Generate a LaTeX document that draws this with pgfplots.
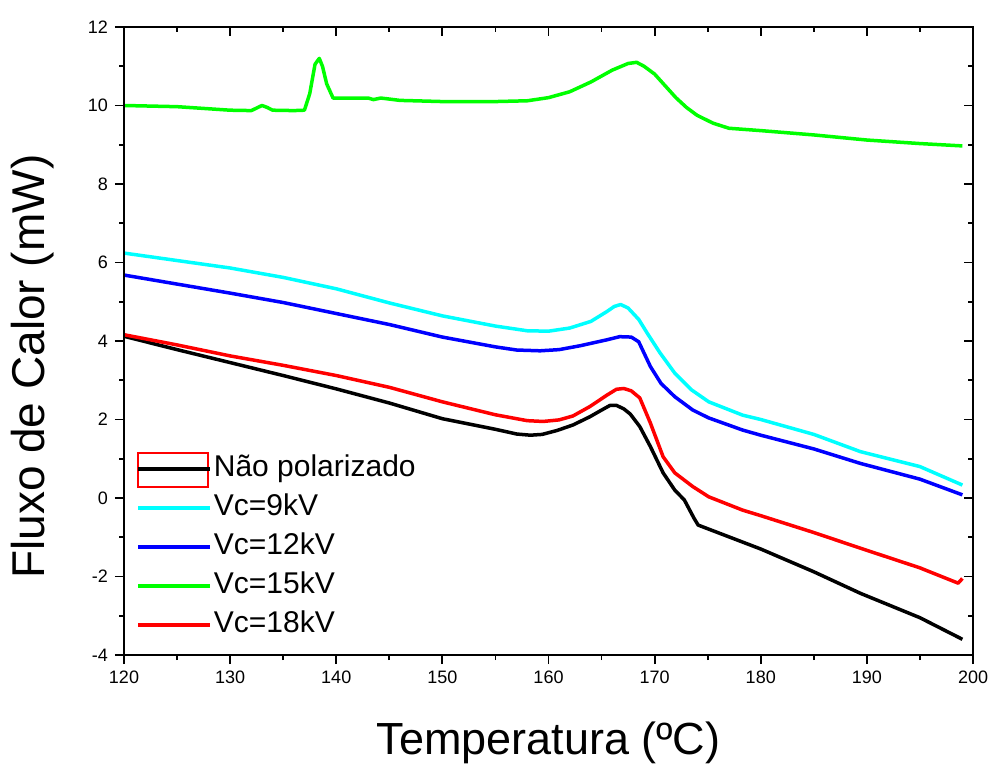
\documentclass[border=0pt]{standalone}
\usepackage{fontspec}
\setmainfont{Liberation Sans}
\usepackage{pgfplots}
\pgfplotsset{compat=1.18}

\definecolor{cy}{RGB}{0,255,255}
\definecolor{bl}{RGB}{0,0,255}
\definecolor{gr}{RGB}{0,255,0}
\definecolor{rd}{RGB}{255,0,0}

\begin{document}
\begin{tikzpicture}
\pgfplotsset{
  base/.style={
    width=424.5pt, height=314pt, scale only axis,
    xmin=120, xmax=200, ymin=-4, ymax=12,
    xtick={120,130,...,200}, ytick={-4,-2,...,12},
    minor x tick num=1, minor y tick num=1,
    axis line style={line width=0.9pt},
    every tick/.style={black, line width=0.9pt},
    major tick length=4.5pt, minor tick length=2.5pt,
    /pgf/number format/assume math mode=true,
    tick label style={font=\fontsize{9}{11}\selectfont},
  }
}
\begin{axis}[base, name=ax,
  tick align=outside, xtick pos=left, ytick pos=left,
  xlabel={Temperatura (ºC)},
  ylabel={Fluxo de Calor (mW)},
  xlabel style={font=\fontsize{22.5}{26}\selectfont, at={(axis description cs:0.5,-0.14)}, anchor=center},
  ylabel style={font=\fontsize{23}{26}\selectfont, at={(axis description cs:-0.108,0.459)}, anchor=center, rotate=0},
  legend cell align=left,
  legend style={draw=none, fill=none, at={(axis cs:121.13,1.12)}, anchor=north west,
    inner sep=0pt, row sep=5pt, column sep=1pt,
    nodes={inner sep=0pt, text height=11pt, text depth=3.5pt},
    font=\fontsize{15}{18}\selectfont},
  legend image code/.code={\draw[#1, line width=1.75pt] (0pt,0pt) -- (36pt,0pt);},
  every axis plot/.append style={line width=1.75pt, line join=round},
]

% nao polarizado
\addplot[black] coordinates {
(120,4.12) (125,3.78) (130,3.45) (135,3.12) (140,2.78) (145,2.42) (150,2.02)
(155,1.75) (157,1.63) (158.3,1.60) (159.4,1.62) (160.8,1.72) (162.3,1.86) (163.9,2.07)
(165,2.24) (165.8,2.36) (166.4,2.36) (167.1,2.27) (167.7,2.14) (168.6,1.82) (169.6,1.31)
(170.8,0.64) (171.9,0.20) (172.8,-0.05) (173.7,-0.51) (174.1,-0.69)
(180,-1.30) (185,-1.88) (189.4,-2.43) (195,-3.05) (199,-3.60)
};
\addlegendentry{Não polarizado}

% 9 kV
\addplot[cy] coordinates {
(120,6.24) (125,6.05) (130,5.86) (135,5.62) (140,5.33) (145,4.97) (150,4.64)
(155,4.38) (158,4.26) (160,4.25) (162,4.33) (164,4.50) (165.5,4.75) (166.2,4.88) (166.8,4.93)
(167.5,4.84) (168.5,4.55) (169.3,4.20) (170.5,3.70) (171.9,3.18) (173.5,2.75)
(175.1,2.45) (178.3,2.11) (180,2.00) (185,1.62) (189.4,1.18) (195,0.80) (199,0.33)
};
\addlegendentry{Vc=9kV}

% 12 kV
\addplot[bl] coordinates {
(120,5.68) (125,5.45) (130,5.22) (135,4.98) (140,4.70) (145,4.42) (150,4.10)
(155,3.85) (157,3.77) (159.2,3.75) (161,3.78) (163,3.88) (165.5,4.03) (166.7,4.11)
(167.8,4.10) (168.5,3.98) (169.6,3.35) (170.6,2.92) (171.9,2.58) (173.6,2.24)
(175.1,2.04) (178.3,1.73) (180,1.60) (185,1.25) (189.4,0.88) (195,0.48) (199,0.08)
};
\addlegendentry{Vc=12kV}

% 15 kV
\addplot[gr] coordinates {
(120,10.00) (125,9.97) (130,9.88) (132,9.87) (133,10.00) (133.5,9.95) (134,9.88)
(136,9.87) (137,9.88) (137.5,10.30) (138,11.05) (138.4,11.20) (138.7,11.00)
(139.1,10.55) (139.7,10.19) (143,10.19) (143.5,10.15) (144.2,10.19) (146,10.13)
(150,10.10) (155,10.10) (158,10.12) (160,10.20) (162,10.35) (164,10.60)
(166,10.90) (167.5,11.07) (168.3,11.10) (169,11.00) (170,10.80) (171,10.50)
(172,10.20) (173,9.95) (174,9.75) (175.5,9.55) (177,9.42) (180,9.36)
(185,9.25) (190,9.12) (195,9.03) (199,8.97)
};
\addlegendentry{Vc=15kV}

% 18 kV
\addplot[rd] coordinates {
(120,4.16) (125,3.90) (130,3.62) (135,3.38) (140,3.12) (145,2.82) (150,2.45)
(155,2.12) (158,1.97) (159.5,1.95) (161,1.99) (162.3,2.09) (163.9,2.33) (165.5,2.62)
(166.4,2.77) (167.1,2.79) (167.8,2.73) (168.6,2.55) (169.6,1.91) (170.8,1.05) (171.9,0.64)
(173.6,0.29) (175.1,0.03) (178.3,-0.31) (180,-0.45) (185,-0.88) (189.4,-1.28)
(195,-1.78) (198.6,-2.17) (199,-2.05)
};
\addlegendentry{Vc=18kV}

\draw[rd, line width=0.7pt] (axis cs:121.32,1.146) rectangle (axis cs:127.92,0.28);
\end{axis}

\begin{axis}[base, tick align=inside, xtick pos=right, ytick pos=right,
  xticklabels={}, yticklabels={}]
\end{axis}

\pgfresetboundingbox
\path ([shift={(-62pt,-54.5pt)}]ax.south west) rectangle ([shift={(10pt,13.5pt)}]ax.north east);
\end{tikzpicture}
\end{document}
